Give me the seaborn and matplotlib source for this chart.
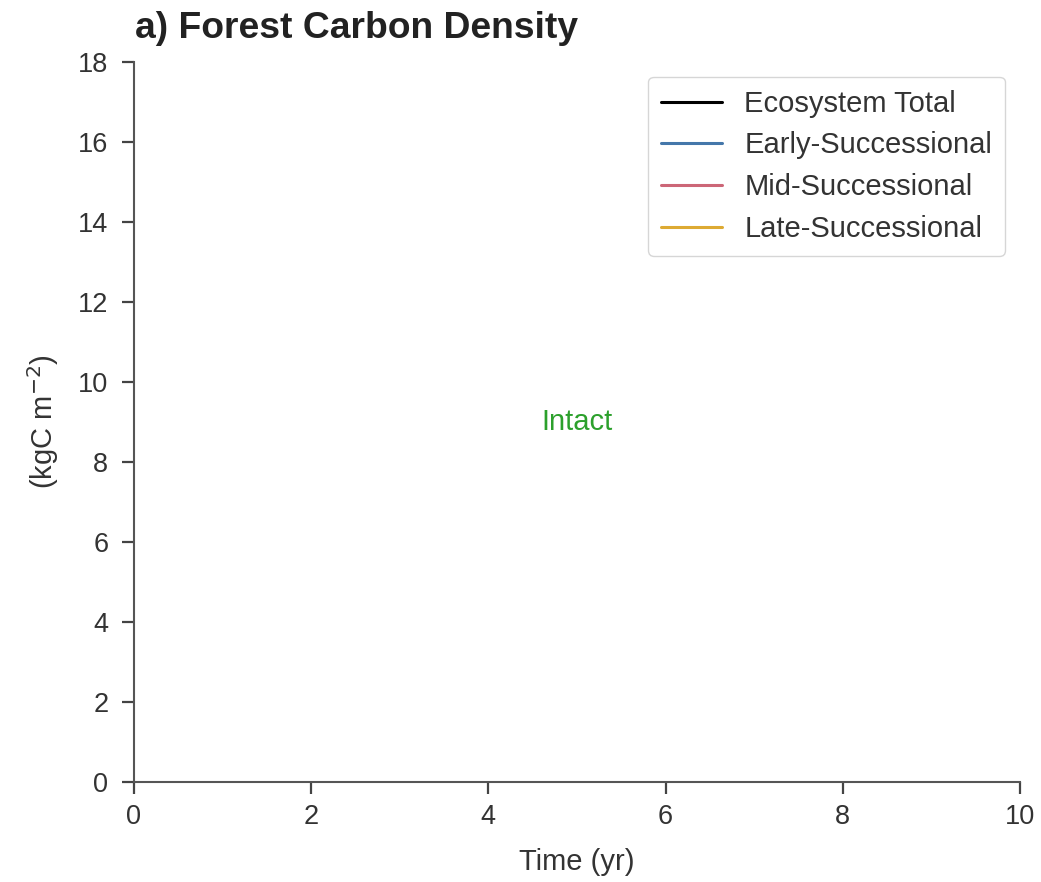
import numpy as np
import pandas as pd
import matplotlib
matplotlib.use("Agg")
import matplotlib.pyplot as plt
import seaborn as sns

# Data (the panel shows no plotted values yet, only the legend entries)
series_names = ["Ecosystem Total", "Early-Successional", "Mid-Successional", "Late-Successional"]
series_colors = ["#000000", "#4477AA", "#CC6677", "#DDAA33"]
time_yr = []
carbon = {name: [] for name in series_names}

x_ticks = [0, 2, 4, 6, 8, 10]
y_ticks = [0, 2, 4, 6, 8, 10, 12, 14, 16, 18]
status_label = "Intact"

sns.set_theme(style="ticks")
plt.rcParams['font.family'] = ['Liberation Sans', 'DejaVu Sans']

fig = plt.figure(figsize=(10.41, 8.82), dpi=100)
ax = fig.add_axes([0.1287, 0.1134, 0.851, 0.8163])

for name, col in zip(series_names, series_colors):
    ax.plot(time_yr, carbon[name], color=col, lw=2.2, label=name)

ax.set_xlim(0, 10)
ax.set_ylim(0, 18)
ax.set_xticks(x_ticks)
ax.set_yticks(y_ticks)
ax.tick_params(labelsize=19.5, length=8.5, width=1.6, color="#444444",
               labelcolor="#333333")
ax.tick_params(axis="y", pad=10)
ax.tick_params(axis="x", pad=7)
ax.set_xlabel("Time (yr)", fontsize=21, labelpad=13, color="#333333")
ax.set_ylabel("(kgC m$^{-2}$)", fontsize=21, labelpad=12, color="#333333")
for s in ["left", "bottom"]:
    ax.spines[s].set_color("#555555")
    ax.spines[s].set_linewidth(1.5)
sns.despine(ax=ax)

ax.text(5, 9, status_label, color="#2ca02c", fontsize=21, ha="center", va="center")

leg = ax.legend(loc="upper right", fontsize=21, frameon=True, handlelength=2.1,
                borderpad=0.45, labelspacing=0.47, handletextpad=0.75,
                bbox_to_anchor=(1.0, 1.0))
leg.get_frame().set_edgecolor("#cccccc")
for t in leg.get_texts():
    t.set_color("#333333")

fig.text(135 / 1041, 0.968, "a) Forest Carbon Density", fontsize=26.8, fontweight="bold",
         ha="left", va="center", color="#222222")

fig.savefig("out.png", dpi=100)
